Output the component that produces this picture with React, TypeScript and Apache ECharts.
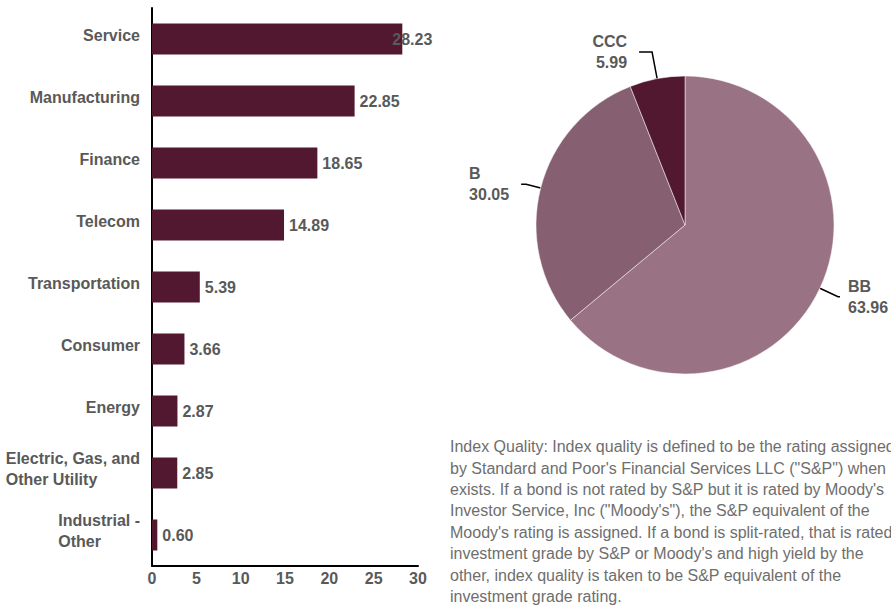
import React, { useEffect, useRef } from "react";
import * as echarts from "echarts";

const sectors = [
  "Service",
  "Manufacturing",
  "Finance",
  "Telecom",
  "Transportation",
  "Consumer",
  "Energy",
  "Electric, Gas, and\nOther Utility",
  "Industrial -\nOther",
];
const sectorValues = [28.23, 22.85, 18.65, 14.89, 5.39, 3.66, 2.87, 2.85, 0.6];

const ratings = ["BB", "B", "CCC"];
const ratingValues = [63.96, 30.05, 5.99];
const ratingColors = ["#997383", "#866070", "#521830"];

const xTicks = { min: 0, max: 30, interval: 5 };

const noteLines = [
  "Index Quality: Index quality is defined to be the rating assigned",
  "by Standard and Poor's Financial Services LLC (\"S&P\") when it",
  "exists. If a bond is not rated by S&P but it is rated by Moody's",
  "Investor Service, Inc (\"Moody's\"), the S&P equivalent of the",
  "Moody's rating is assigned. If a bond is split-rated, that is rated",
  "investment grade by S&P or Moody's and high yield by the",
  "other, index quality is taken to be S&P equivalent of the",
  "investment grade rating.",
];

const FONT = "'Liberation Sans', Arial, sans-serif";
const LABEL_GRAY = "#595959";

// per-slice label styling (alignment of lines, leader line lengths)
const pieAlign = ["l", "l", "r"];
const pieLineLen = [20, 15, 27];
const pieLineLen2 = [2, 5, 13];
const pieLabelDist = [8, 7, 12];
const pieLabelWidth = [50, 45, 40];

export default function App() {
  const ref = useRef<HTMLDivElement>(null);

  useEffect(() => {
    if (!ref.current) return;
    const chart = echarts.init(ref.current, undefined, { renderer: "svg" });

    const barData = sectorValues.map((v, i) =>
      i === 0 ? { value: v, label: { offset: [-15, 0] } } : { value: v }
    );

    const richStyle = (align: string) => ({
      align,
      color: LABEL_GRAY,
      fontWeight: "bold",
      fontSize: 16,
      fontFamily: FONT,
      lineHeight: 21,
    });

    const pieData = ratings.map((name, i) => ({
      name,
      value: ratingValues[i],
      itemStyle: { color: ratingColors[i] },
      labelLine: { length: pieLineLen[i], length2: pieLineLen2[i] },
      label: {
        distanceToLabelLine: pieLabelDist[i],
        width: pieLabelWidth[i],
        overflow: "none",
        formatter: (p: any) =>
          `{${pieAlign[i]}|${p.name}}\n{${pieAlign[i]}|${p.value.toFixed(2)}}`,
      },
    }));

    chart.setOption({
      animation: false,
      textStyle: { fontFamily: FONT },
      grid: { left: 152, top: 8, width: 266, height: 558, containLabel: false },
      xAxis: {
        type: "value",
        min: xTicks.min,
        max: xTicks.max,
        interval: xTicks.interval,
        axisLine: { show: true, lineStyle: { color: "#000", width: 2 } },
        axisTick: { show: false },
        splitLine: { show: false },
        axisLabel: {
          color: LABEL_GRAY,
          fontWeight: "bold",
          fontSize: 16,
          fontFamily: FONT,
          margin: 4,
        },
      },
      yAxis: {
        type: "category",
        data: sectors,
        inverse: true,
        axisLine: { show: true, lineStyle: { color: "#000", width: 2 } },
        axisTick: { show: false },
        axisLabel: {
          color: LABEL_GRAY,
          fontWeight: "bold",
          fontSize: 16,
          fontFamily: FONT,
          margin: 12,
          lineHeight: 21,
          padding: [0, 0, 8, 0],
          formatter: (v: string) =>
            v
              .split("\n")
              .map((s) => `{a|${s}}`)
              .join("\n"),
          rich: { a: richStyle("left") },
        },
      },
      series: [
        {
          type: "bar",
          data: barData,
          barWidth: "50%",
          itemStyle: { color: "#521830" },
          label: {
            show: true,
            position: "right",
            distance: 5,
            color: LABEL_GRAY,
            fontWeight: "bold",
            fontSize: 16,
            fontFamily: FONT,
            formatter: (p: any) => p.value.toFixed(2),
          },
        },
        {
          type: "pie",
          center: [685, 225],
          radius: 149,
          startAngle: 90,
          clockwise: true,
          data: pieData,
          itemStyle: { borderColor: "#ffffff", borderWidth: 0.5 },
          labelLine: {
            show: true,
            smooth: false,
            lineStyle: { color: "#000", width: 1.5 },
          },
          label: {
            show: true,
            color: LABEL_GRAY,
            fontWeight: "bold",
            fontSize: 16,
            fontFamily: FONT,
            lineHeight: 21,
            overflow: "none",
            rich: { l: richStyle("left"), r: richStyle("right") },
          },
          emphasis: { disabled: true },
        },
      ],
      graphic: [
        {
          type: "text",
          left: 450,
          top: 436,
          style: {
            text: noteLines.join("\n"),
            font: `16px ${FONT}`,
            fill: "#6e6e6e",
            lineHeight: 21.4,
          },
        },
      ],
    });

    return () => chart.dispose();
  }, []);

  return (
    <div
      ref={ref}
      style={{ position: "absolute", left: 0, top: 0, width: 891, height: 607 }}
    />
  );
}
